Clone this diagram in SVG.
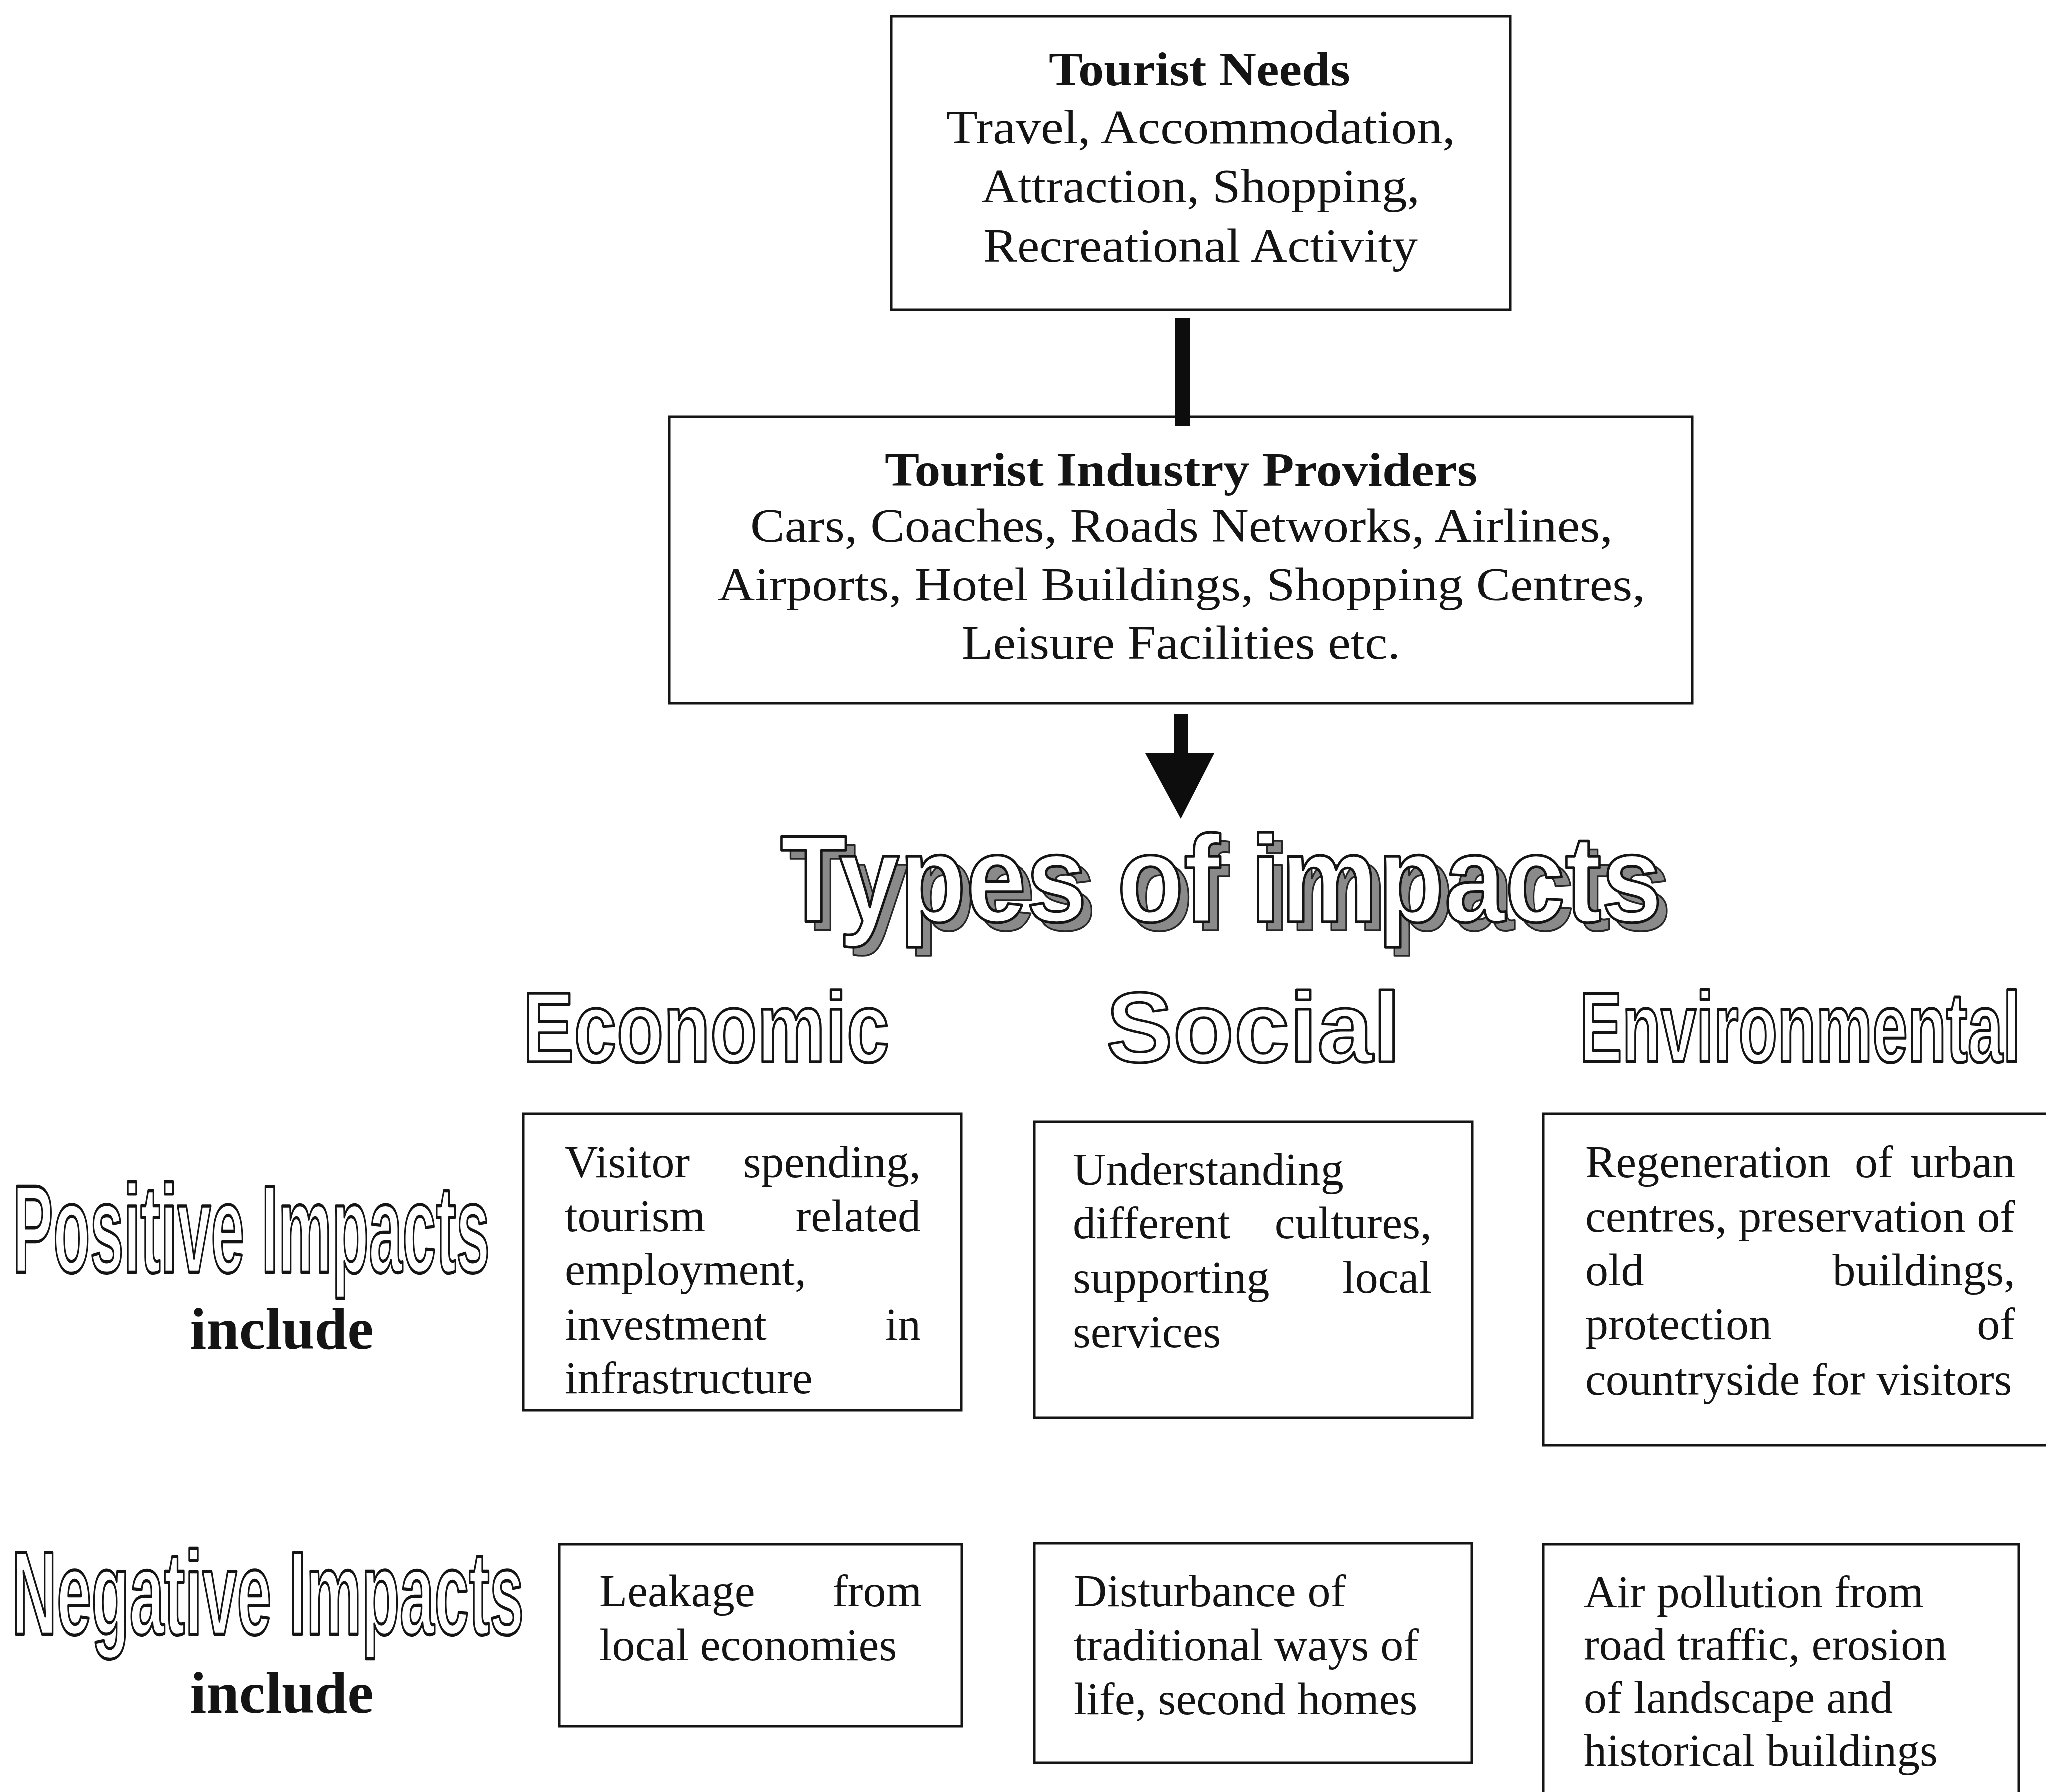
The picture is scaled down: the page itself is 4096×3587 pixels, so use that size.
<svg xmlns="http://www.w3.org/2000/svg" width="4096" height="3587" viewBox="0 0 4096 3587">
  <style>
    .box { fill: #fff; stroke: #151515; stroke-width: 5; }
    .serif { font-family: "Liberation Serif", "Times New Roman", serif; fill: #141414; }
    .body { font-size: 92px; }
    .head { font-size: 95px; }
    .bold { font-weight: bold; }
    .outline { font-family: "Liberation Sans", Arial, sans-serif; font-weight: bold; fill: #fff; stroke: #141414; stroke-width: 5; stroke-linejoin: round; vector-effect: non-scaling-stroke; }
    .shade { font-family: "Liberation Sans", Arial, sans-serif; font-weight: bold; fill: #8a8a8a; stroke: #262626; stroke-width: 3.5; stroke-linejoin: round; vector-effect: non-scaling-stroke; }
    .link { fill: #0d0d0d; }
  </style>

  <rect x="0" y="0" width="4096" height="3587" fill="#fff"/>

  <!-- top box: what tourists need -->
  <g id="tourist-needs">
    <rect class="box" x="1784" y="33" width="1239" height="587"/>
    <text class="serif head bold" x="2100" y="171" textLength="603" lengthAdjust="spacingAndGlyphs">Tourist Needs</text>
    <text class="serif head" x="1894" y="287" textLength="1019" lengthAdjust="spacingAndGlyphs">Travel, Accommodation,</text>
    <text class="serif head" x="1964" y="405" textLength="878" lengthAdjust="spacingAndGlyphs">Attraction, Shopping,</text>
    <text class="serif head" x="1968" y="524" textLength="870" lengthAdjust="spacingAndGlyphs">Recreational Activity</text>
  </g>

  <!-- second box: industry providers -->
  <g id="industry-providers">
    <rect class="box" x="1340" y="834" width="2048" height="574"/>
    <text class="serif head bold" x="1771" y="972" textLength="1186" lengthAdjust="spacingAndGlyphs">Tourist Industry Providers</text>
    <text class="serif head" x="1502" y="1084" textLength="1727" lengthAdjust="spacingAndGlyphs">Cars, Coaches, Roads Networks, Airlines,</text>
    <text class="serif head" x="1437" y="1202" textLength="1857" lengthAdjust="spacingAndGlyphs">Airports, Hotel Buildings, Shopping Centres,</text>
    <text class="serif head" x="1925" y="1319" textLength="878" lengthAdjust="spacingAndGlyphs">Leisure Facilities etc.</text>
  </g>

  <!-- connectors -->
  <g id="connectors">
    <rect class="link" x="2353" y="637" width="30" height="215"/>
    <path class="link" d="M2350 1430 H2379 V1508 H2431 L2364 1639 L2293 1508 H2350 Z"/>
  </g>

  <!-- heading with drop shadow; outlined words are squeezed horizontally -->
  <g id="types-of-impacts">
    <text class="shade" transform="translate(1580 1862) scale(0.875 1)" font-size="247" textLength="2018" lengthAdjust="spacingAndGlyphs">Types of impacts</text>
    <text class="outline" transform="translate(1562 1845) scale(0.875 1)" font-size="247" textLength="2018" lengthAdjust="spacingAndGlyphs">Types of impacts</text>
  </g>

  <!-- column headings -->
  <g id="col-economic">
    <text class="outline" transform="translate(1047 2125) scale(0.775 1)" font-size="198" textLength="946" lengthAdjust="spacingAndGlyphs">Economic</text>
  </g>
  <g id="col-social">
    <text class="outline" transform="translate(2215 2125) scale(1.01 1)" font-size="198" textLength="583" lengthAdjust="spacingAndGlyphs">Social</text>
  </g>
  <g id="col-environmental">
    <text class="outline" transform="translate(3163 2125) scale(0.642 1)" font-size="198" textLength="1373" lengthAdjust="spacingAndGlyphs">Environmental</text>
  </g>

  <!-- row headings -->
  <g id="row-positive">
    <text class="outline" transform="translate(26 2547) scale(0.4816 1)" font-size="251" textLength="1981" lengthAdjust="spacingAndGlyphs">Positive Impacts</text>
    <text class="serif bold" x="564" y="2700" font-size="118" text-anchor="middle">include</text>
  </g>
  <g id="row-negative">
    <text class="outline" transform="translate(24 3271) scale(0.526 1)" font-size="237" textLength="1949" lengthAdjust="spacingAndGlyphs">Negative Impacts</text>
    <text class="serif bold" x="564" y="3428" font-size="118" text-anchor="middle">include</text>
  </g>

  <!-- positive impacts (justified lines use a start and an end chunk) -->
  <g id="pos-economic" class="serif body">
    <rect class="box" x="1048" y="2229" width="876" height="594"/>
    <text y="2356"><tspan x="1131">Visitor</tspan><tspan x="1843" text-anchor="end">spending,</tspan></text>
    <text y="2465"><tspan x="1131">tourism</tspan><tspan x="1843" text-anchor="end">related</tspan></text>
    <text x="1131" y="2572">employment,</text>
    <text y="2682"><tspan x="1131">investment</tspan><tspan x="1843" text-anchor="end">in</tspan></text>
    <text x="1131" y="2789">infrastructure</text>
  </g>
  <g id="pos-social" class="serif body">
    <rect class="box" x="2071" y="2245" width="876" height="593"/>
    <text x="2148" y="2371">Understanding</text>
    <text y="2479"><tspan x="2148">different</tspan><tspan x="2866" text-anchor="end">cultures,</tspan></text>
    <text y="2588"><tspan x="2148">supporting</tspan><tspan x="2866" text-anchor="end">local</tspan></text>
    <text x="2148" y="2697">services</text>
  </g>
  <g id="pos-environmental" class="serif body">
    <rect class="box" x="3090" y="2229" width="1020" height="664"/>
    <text y="2356"><tspan x="3174">Regeneration</tspan><tspan x="3713">of</tspan><tspan x="4034" text-anchor="end">urban</tspan></text>
    <text x="3174" y="2466" textLength="860" lengthAdjust="spacing">centres, preservation of</text>
    <text y="2573"><tspan x="3174">old</tspan><tspan x="4034" text-anchor="end">buildings,</tspan></text>
    <text y="2681"><tspan x="3174">protection</tspan><tspan x="4034" text-anchor="end">of</tspan></text>
    <text x="3174" y="2792">countryside for visitors</text>
  </g>

  <!-- negative impacts -->
  <g id="neg-economic" class="serif body">
    <rect class="box" x="1120" y="3091" width="805" height="364"/>
    <text y="3215"><tspan x="1200">Leakage</tspan><tspan x="1845" text-anchor="end">from</tspan></text>
    <text x="1200" y="3323">local economies</text>
  </g>
  <g id="neg-social" class="serif body">
    <rect class="box" x="2071" y="3089" width="875" height="439"/>
    <text x="2150" y="3215">Disturbance of</text>
    <text x="2150" y="3323">traditional ways of</text>
    <text x="2150" y="3431">life, second homes</text>
  </g>
  <g id="neg-environmental" class="serif body">
    <rect class="box" x="3090" y="3091" width="951" height="520"/>
    <text x="3171" y="3217">Air pollution from</text>
    <text x="3171" y="3322">road traffic, erosion</text>
    <text x="3171" y="3428">of landscape and</text>
    <text x="3171" y="3534">historical buildings</text>
  </g>
</svg>
